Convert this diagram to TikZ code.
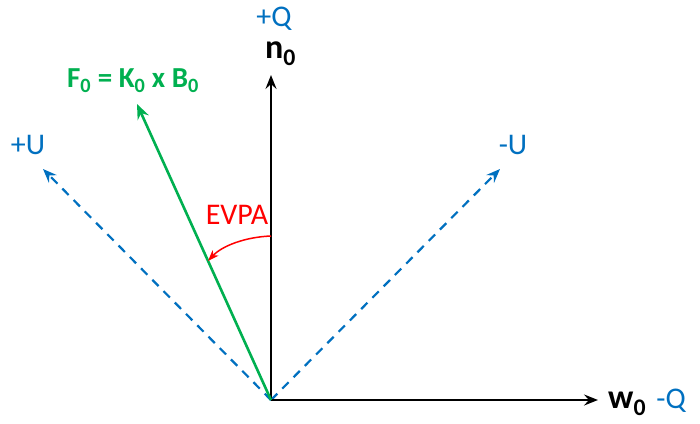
\documentclass[tikz,border=0pt]{standalone}
\usepackage{fontspec}
\setmainfont{Carlito}
\usetikzlibrary{arrows.meta}
\definecolor{myblue}{HTML}{0070C0}
\definecolor{mygreen}{HTML}{00B050}
\definecolor{myred}{HTML}{FF0000}
\newcommand\labfont{\fontsize{25}{30}\selectfont}
\newcommand\bigfont{\fontsize{34}{40}\selectfont\bfseries}
\newcommand\ffont{\fontsize{29}{34}\selectfont\bfseries}
\newcommand\evfont{\fontsize{30}{34}\selectfont}
\begin{document}
\begin{tikzpicture}[x=1pt,y=-1pt,
  axis/.style={line width=2.2pt,-{Stealth[length=14pt,width=11pt,inset=5pt]}},
  diag/.style={myblue,line width=2.2pt,dash pattern=on 9pt off 7pt,-{Stealth[length=14pt,width=11pt,inset=5pt]}},
  fvec/.style={mygreen,line width=2.6pt,-{Stealth[length=15pt,width=12pt,inset=5pt]}},
  big/.style={font=\bigfont,inner sep=0pt}]
\useasboundingbox[fill=white] (0,0) rectangle (700,423);
\coordinate (O) at (271,400);
\coordinate (N) at (271,75);
\coordinate (W) at (598,400);
\coordinate (F) at (137,104);
\coordinate (PU) at (43,169);
\coordinate (MU) at (500,169);
\coordinate (A1) at (271,236);
\coordinate (A2) at (208,261);
\draw[diag] (O) -- (PU);
\draw[diag] (O) -- (MU);
\draw[axis] (O) -- (N);
\draw[axis] (O) -- (W);
\draw[fvec] (O) -- (F);
\draw[myred,line width=1.5pt,-{Stealth[length=11pt,width=8pt,inset=3pt]}] (A1) .. controls (245,237) and (222,246) .. (A2);
\node[font=\evfont,text=myblue,inner sep=0pt] (q1) at (274,19) {+Q};
\node[big,anchor=base west] (n0) at (265,58) {n\textsubscript{0}};
\node[font=\ffont,text=mygreen,inner sep=0pt] (f0) at (133,81) {F\textsubscript{0} = K\textsubscript{0} x B\textsubscript{0}};
\node[font=\evfont,text=myblue,inner sep=0pt] (pu) at (28,145) {+U};
\node[font=\evfont,text=myblue,inner sep=0pt] (mu) at (513,145) {-U};
\node[font=\evfont,text=myred,inner sep=0pt] (ev) at (237,215) {EVPA};
\node[big,anchor=base west] (w0) at (608,408) {w\textsubscript{0}};
\node[font=\evfont,text=myblue,inner sep=0pt] (mq) at (671,401) {-Q};
\end{tikzpicture}
\end{document}
